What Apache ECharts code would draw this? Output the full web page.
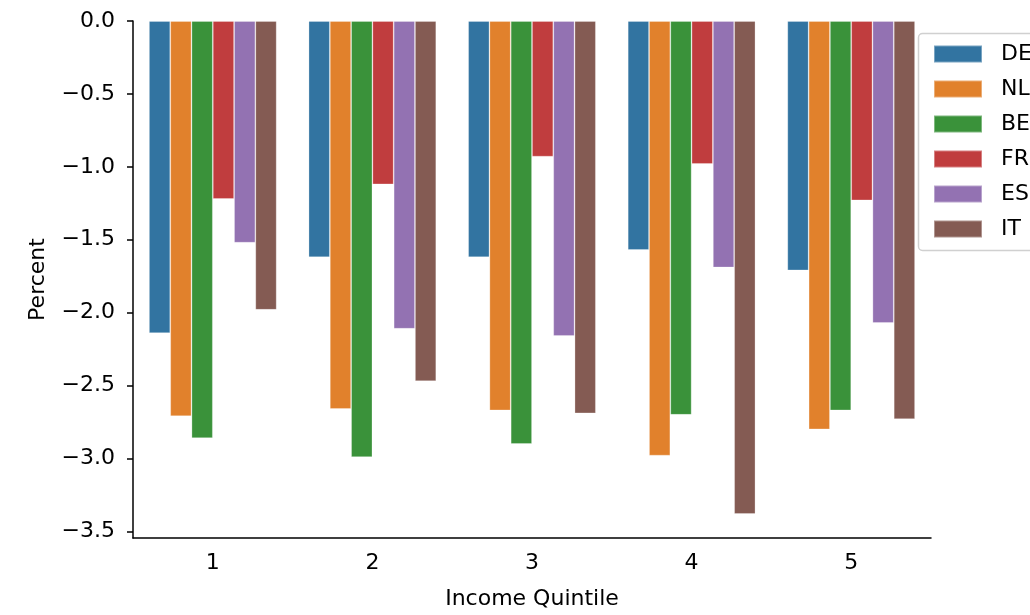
<!DOCTYPE html>
<html>
<head>
<meta charset="utf-8">
<script src="https://cdn.jsdelivr.net/npm/echarts@6/dist/echarts.min.js"></script>
<style>html,body{margin:0;padding:0;background:#fff}#c{width:1030px;height:615px}</style>
</head>
<body>
<div id="c"></div>
<script>
const categories = ['1', '2', '3', '4', '5'];
const countries = ['DE', 'NL', 'BE', 'FR', 'ES', 'IT'];
const DE = [-2.14, -1.62, -1.62, -1.57, -1.71];
const NL = [-2.71, -2.66, -2.67, -2.98, -2.80];
const BE = [-2.86, -2.99, -2.90, -2.70, -2.67];
const FR = [-1.22, -1.12, -0.93, -0.98, -1.23];
const ES = [-1.52, -2.11, -2.16, -1.69, -2.07];
const IT = [-1.98, -2.47, -2.69, -3.38, -2.73];
const yTicks = [0, -0.5, -1.0, -1.5, -2.0, -2.5, -3.0, -3.5];
const colors = ['#3274a1', '#e1812c', '#3a923a', '#c03d3e', '#9372b2', '#845b53'];
const seriesData = [DE, NL, BE, FR, ES, IT];

const font = 'DejaVu Sans';
const chart = echarts.init(document.getElementById('c'), null, {renderer: 'canvas'});
chart.setOption({
  animation: false,
  textStyle: {fontFamily: font},
  grid: {left: 133, right: 99, top: 21, bottom: 75, containLabel: false},
  xAxis: {
    type: 'category',
    data: categories,
    name: 'Income Quintile',
    nameLocation: 'middle',
    nameGap: 50,
    nameTextStyle: {fontSize: 22, color: '#000', fontFamily: font},
    axisLine: {onZero: false, lineStyle: {color: '#000', width: 1.5}},
    axisTick: {alignWithLabel: true, length: 6, lineStyle: {color: '#000', width: 1.5}},
    axisLabel: {fontSize: 22, color: '#000', margin: 14, fontFamily: font},
    splitLine: {show: false}
  },
  yAxis: {
    type: 'value',
    min: -3.545,
    max: 0,
    name: 'Percent',
    nameLocation: 'middle',
    nameGap: 84,
    nameTextStyle: {fontSize: 22, color: '#000', fontFamily: font},
    axisLine: {show: true, lineStyle: {color: '#000', width: 1.5}},
    axisTick: {show: true, length: 6, customValues: yTicks, lineStyle: {color: '#000', width: 1.5}},
    axisLabel: {
      fontSize: 22, color: '#000', margin: 18, fontFamily: font,
      customValues: yTicks,
      formatter: v => v.toFixed(1).replace('-', '\u2212')
    },
    splitLine: {show: false}
  },
  legend: {
    orient: 'vertical',
    left: 928,
    top: 38,
    itemWidth: 48,
    itemHeight: 17,
    itemGap: 13,
    icon: 'rect',
    data: countries,
    textStyle: {fontSize: 22, color: '#000', fontFamily: font, padding: [0, 0, 0, 14]}
  },
  graphic: [{
    type: 'rect',
    shape: {x: 918.5, y: 33.5, width: 140, height: 217, r: 4},
    style: {fill: '#fff', stroke: '#d0d0d0', lineWidth: 1.5},
    z: -1
  }],
  series: countries.map((name, i) => ({
    name: name,
    type: 'bar',
    data: seriesData[i],
    barGap: '0%',
    barCategoryGap: '20%',
    itemStyle: {color: colors[i], borderColor: 'rgba(255,255,255,0.35)', borderWidth: 0.8}
  }))
});
</script>
</body>
</html>
